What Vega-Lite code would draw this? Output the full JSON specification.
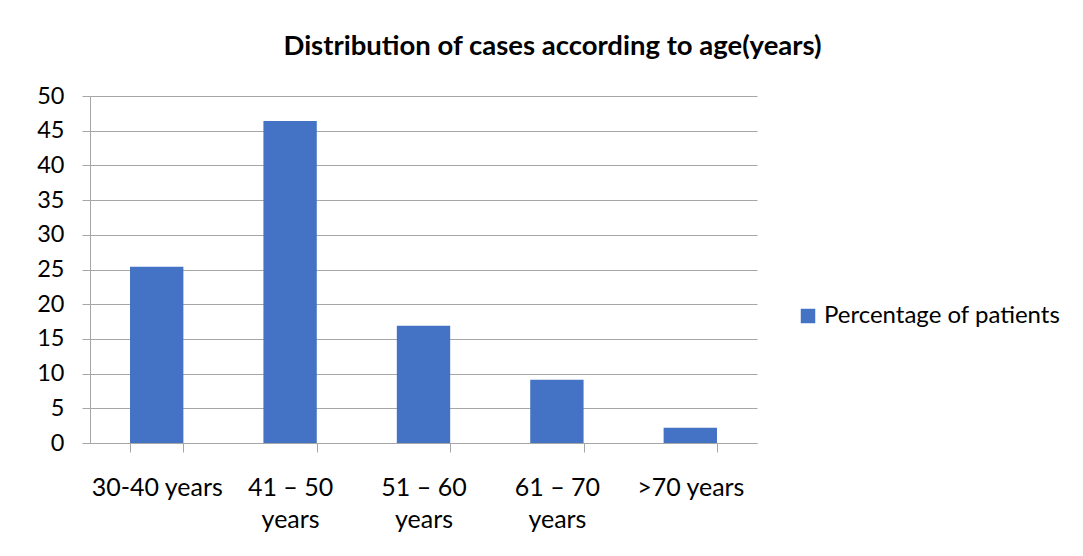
{
  "$schema": "https://vega.github.io/schema/vega-lite/v6.json",
  "width": 667,
  "height": 347,
  "autosize": {"type": "none"},
  "padding": {"left": 90, "top": 96, "right": 326, "bottom": 113},
  "background": "white",
  "title": {
    "text": "Distribution of cases according to age(years)",
    "font": "Lato",
    "fontSize": 27.5,
    "fontWeight": "bold",
    "color": "#000000",
    "anchor": "middle",
    "dx": 129,
    "offset": 24
  },
  "data": {
    "values": [
      {"age": "30-40 years", "pct": 25.4, "series": "Percentage of patients"},
      {"age": "41 – 50 years", "pct": 46.4, "series": "Percentage of patients"},
      {"age": "51 – 60 years", "pct": 16.9, "series": "Percentage of patients"},
      {"age": "61 – 70 years", "pct": 9.1, "series": "Percentage of patients"},
      {"age": ">70 years", "pct": 2.2, "series": "Percentage of patients"}
    ]
  },
  "mark": {"type": "bar"},
  "encoding": {
    "x": {
      "field": "age",
      "type": "nominal",
      "sort": null,
      "scale": {"paddingInner": 0.6, "paddingOuter": 0.3},
      "axis": {
        "title": null,
        "labelAngle": 0,
        "tickBand": "extent",
        "tickSize": 9,
        "tickColor": "#a6a6a6",
        "domainColor": "#a6a6a6",
        "labelFont": "Lato",
        "labelFontSize": 25,
        "labelColor": "#000000",
        "labelPadding": 23,
        "labelLineHeight": 32,
        "labelExpr": "test(/–/, datum.label) ? [replace(datum.label, ' years', ''), 'years'] : datum.label"
      }
    },
    "y": {
      "field": "pct",
      "type": "quantitative",
      "scale": {"domain": [0, 50]},
      "axis": {
        "title": null,
        "values": [0, 5, 10, 15, 20, 25, 30, 35, 40, 45, 50],
        "grid": true,
        "gridColor": "#a6a6a6",
        "tickColor": "#a6a6a6",
        "domainColor": "#a6a6a6",
        "tickSize": 8,
        "labelPadding": 18,
        "labelFont": "Lato",
        "labelFontSize": 23.5,
        "labelColor": "#000000"
      }
    },
    "color": {
      "field": "series",
      "type": "nominal",
      "scale": {"range": ["#4472C4"]},
      "legend": {
        "title": null,
        "orient": "none",
        "legendX": 706,
        "legendY": 208,
        "symbolType": "square",
        "symbolSize": 210,
        "symbolStrokeWidth": 0,
        "labelFont": "Lato",
        "labelFontSize": 24,
        "labelColor": "#000000",
        "labelOffset": 4,
        "labelLimit": 0
      }
    }
  },
  "config": {"view": {"stroke": null}}
}
